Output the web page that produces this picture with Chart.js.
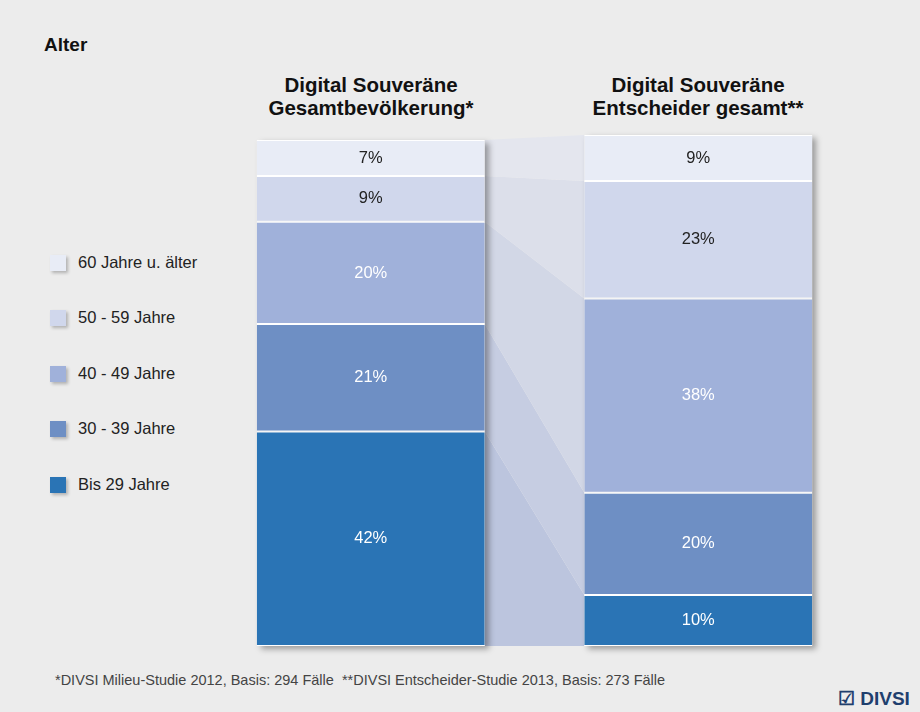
<!DOCTYPE html>
<html>
<head>
<meta charset="utf-8">
<script src="https://cdn.jsdelivr.net/npm/chart.js@4"></script>
<style>
  body { margin: 0; background: #ececec; font-family: "Liberation Sans", Arial, sans-serif; }
  #wrap { position: relative; width: 920px; height: 712px; }
  .t { position: absolute; color: #111; }
  #chartBox { position: absolute; left: 197px; top: 125px; width: 680px; height: 540px; }
  .leg { position: absolute; left: 50px; font-size: 16.5px; color: #222; }
  .leg span { display: inline-block; width: 16px; height: 16px; vertical-align: -3px; margin-right: 12px; box-shadow: 2px 2px 3px rgba(0,0,0,0.25); }
</style>
</head>
<body>
<div id="wrap">
  <div class="t" style="left:44px;top:34px;font-size:19px;font-weight:bold;">Alter</div>
  <div class="t" style="left:211px;width:320px;top:73px;font-size:20.5px;font-weight:bold;text-align:center;line-height:23px;">Digital Souveräne<br>Gesamtbevölkerung*</div>
  <div class="t" style="left:538px;width:320px;top:73px;font-size:20.5px;font-weight:bold;text-align:center;line-height:23px;">Digital Souveräne<br>Entscheider gesamt**</div>
  <div id="legend"></div>
  <div id="chartBox"><canvas id="c"></canvas></div>
  <div class="t" style="left:55px;top:672px;font-size:14.5px;color:#444;">*DIVSI Milieu-Studie 2012, Basis: 294 Fälle&nbsp;&nbsp;**DIVSI Entscheider-Studie 2013, Basis: 273 Fälle</div>
  <div class="t" style="left:838px;top:687px;font-size:19px;font-weight:bold;color:#1f3f6e;">☑ DIVSI</div>
</div>
<script>
const columns = ["Gesamtbevölkerung", "Entscheider"];
const groups = ["Bis 29 Jahre", "30 - 39 Jahre", "40 - 49 Jahre", "50 - 59 Jahre", "60 Jahre u. älter"];
const gesamt = [42, 21, 20, 9, 7];
const entscheider = [10, 20, 38, 23, 9];
const colors = ["#2a74b5", "#6e8fc4", "#a0b1da", "#d0d7ec", "#e8ecf6"];
const bandColors = ["#bcc5de", "#c6cde2", "#d2d7e6", "#dcdfea", "#e4e6ee"];
const labelColors = ["#fff", "#fff", "#fff", "#222", "#222"];

// legend, top item = oldest group
const legendTops = [475, 419, 364, 308, 253];
const legendEl = document.getElementById('legend');
groups.forEach((g, i) => {
  const d = document.createElement('div');
  d.className = 'leg';
  d.style.top = legendTops[i] + 'px';
  d.innerHTML = '<span style="background:' + colors[i] + '"></span>' + g;
  legendEl.appendChild(d);
});

const connectors = {
  id: 'connectors',
  beforeDatasetsDraw(chart) {
    const ctx = chart.ctx;
    ctx.save();
    chart.data.datasets.forEach((ds, i) => {
      const a = chart.getDatasetMeta(i).data[0];
      const b = chart.getDatasetMeta(i).data[1];
      const ax = a.x + a.width / 2, bx = b.x - b.width / 2;
      ctx.beginPath();
      ctx.moveTo(ax, a.y);
      ctx.lineTo(bx, b.y);
      ctx.lineTo(bx, b.base);
      ctx.lineTo(ax, a.base);
      ctx.closePath();
      ctx.fillStyle = bandColors[i];
      ctx.fill();
    });
    ctx.restore();
    ctx.save();
    ctx.shadowColor = 'rgba(0,0,0,0.35)';
    ctx.shadowBlur = 6;
    ctx.shadowOffsetX = 4;
    ctx.shadowOffsetY = 3;
    chart.getDatasetMeta(0).data.forEach((el, j) => {
      const top = chart.getDatasetMeta(chart.data.datasets.length - 1).data[j].y;
      ctx.fillStyle = '#ececec';
      ctx.fillRect(el.x - el.width / 2, top, el.width, el.base - top);
    });
    ctx.restore();
  },
  afterDatasetsDraw(chart) {
    const ctx = chart.ctx;
    ctx.save();
    ctx.font = '16.5px "Liberation Sans", Arial, sans-serif';
    ctx.textAlign = 'center';
    ctx.textBaseline = 'middle';
    chart.data.datasets.forEach((ds, i) => {
      chart.getDatasetMeta(i).data.forEach((el, j) => {
        ctx.fillStyle = labelColors[i];
        ctx.fillText(ds.data[j] + '%', el.x, (el.y + el.base) / 2);
      });
    });
    ctx.restore();
  }
};

new Chart(document.getElementById('c'), {
  type: 'bar',
  data: {
    labels: columns,
    datasets: groups.map((g, i) => ({
      label: g,
      data: [gesamt[i], entscheider[i]],
      backgroundColor: colors[i],
      borderColor: '#ffffff',
      borderWidth: { top: 1, bottom: 1, left: 0, right: 0 },
      borderSkipped: false,
      barPercentage: 0.696,
      categoryPercentage: 1
    }))
  },
  plugins: [connectors],
  options: {
    responsive: true,
    maintainAspectRatio: false,
    animation: false,
    layout: { padding: { left: 10, right: 15, top: 10, bottom: 19 } },
    plugins: { legend: { display: false }, tooltip: { enabled: false } },
    scales: {
      x: { stacked: true, display: false },
      y: { stacked: true, display: false, min: 0, max: 100 }
    }
  }
});
</script>
</body>
</html>
